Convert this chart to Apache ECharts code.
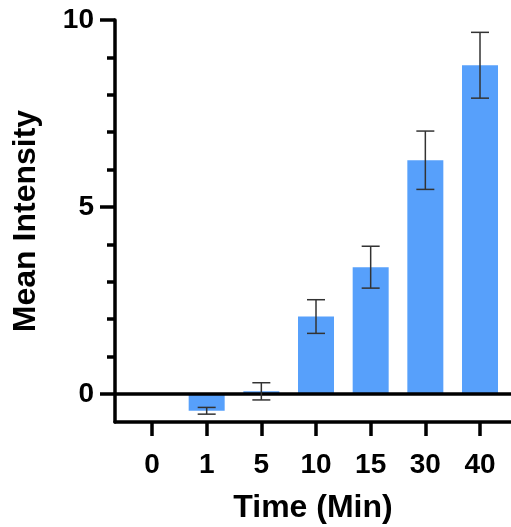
<!DOCTYPE html>
<html>
<head>
<meta charset="utf-8">
<script src="https://cdn.jsdelivr.net/npm/echarts@6/dist/echarts.min.js"></script>
<style>
  html, body { margin: 0; padding: 0; background: #fff; }
  #chart { width: 511px; height: 527px; }
</style>
</head>
<body>
<div id="chart"></div>
<script>
  // Mittelwerte und Fehler pro Zeitpunkt
  var categories = ['0', '1', '5', '10', '15', '30', '40'];
  var means = [0, -0.45, 0.07, 2.07, 3.39, 6.25, 8.79];
  var errs = [0, 0.09, 0.23, 0.45, 0.56, 0.78, 0.88];
  var yMajorTicks = [0, 5, 10];
  var yMinorTicks = [0, 1, 2, 3, 4, 5, 6, 7, 8, 9, 10];

  var catIdx = categories.map(function (c, i) { return i; });
  var barData = means.map(function (v, i) { return [i, v]; });
  var errData = means.map(function (v, i) { return [i, v - errs[i], v + errs[i]]; });

  var font = '"Liberation Sans", Arial, sans-serif';
  var lw = 3.5;
  var chart = echarts.init(document.getElementById('chart'));

  chart.setOption({
    animation: false,
    grid: { left: 115, right: 0, top: 20, bottom: 105, outerBoundsMode: 'none' },
    xAxis: {
      type: 'value',
      min: -0.677,
      max: 6.567,
      name: 'Time (Min)',
      nameLocation: 'middle',
      nameGap: 70,
      nameTextStyle: { fontFamily: font, fontWeight: 'bold', fontSize: 32, color: '#000' },
      splitLine: { show: false },
      axisLine: { onZero: false, lineStyle: { color: '#000', width: lw } },
      axisTick: { customValues: catIdx, length: 14, lineStyle: { color: '#000', width: lw } },
      axisLabel: {
        customValues: catIdx,
        margin: 29,
        fontFamily: font, fontWeight: 'bold', fontSize: 28, color: '#000',
        formatter: function (v) { return categories[Math.round(v)]; }
      }
    },
    yAxis: [{
      type: 'value',
      min: -0.75,
      max: 10,
      name: 'Mean Intensity',
      nameLocation: 'middle',
      nameGap: 73,
      nameTextStyle: { fontFamily: font, fontWeight: 'bold', fontSize: 32, color: '#000' },
      splitLine: { show: false },
      axisLine: { show: true, onZero: false, lineStyle: { color: '#000', width: lw } },
      axisTick: { show: true, customValues: yMajorTicks, length: 15, lineStyle: { color: '#000', width: lw } },
      axisLabel: {
        customValues: yMajorTicks,
        margin: 21,
        fontFamily: font, fontWeight: 'bold', fontSize: 28, color: '#000'
      }
    }, {
      type: 'value',
      position: 'left',
      min: -0.75,
      max: 10,
      splitLine: { show: false },
      axisLine: { show: false, onZero: false },
      axisTick: { show: true, customValues: yMinorTicks, length: 8, lineStyle: { color: '#000', width: lw } },
      axisLabel: { show: false }
    }],
    series: [{
      type: 'bar',
      data: barData,
      barWidth: 36,
      itemStyle: { color: '#57A0FB' },
      markLine: {
        silent: true,
        symbol: 'none',
        label: { show: false },
        lineStyle: { color: '#000', width: lw, type: 'solid' },
        data: [{ yAxis: 0 }]
      }
    }, {
      type: 'custom',
      data: errData,
      z: 5,
      renderItem: function (params, api) {
        if (api.value(1) === api.value(2)) {
          return null;
        }
        var x = api.value(0);
        var lo = api.coord([x, api.value(1)]);
        var hi = api.coord([x, api.value(2)]);
        var half = 9;
        var style = { stroke: '#333', lineWidth: 1.5 };
        return {
          type: 'group',
          children: [
            { type: 'line', shape: { x1: lo[0], y1: lo[1], x2: hi[0], y2: hi[1] }, style: style },
            { type: 'line', shape: { x1: lo[0] - half, y1: lo[1], x2: lo[0] + half, y2: lo[1] }, style: style },
            { type: 'line', shape: { x1: hi[0] - half, y1: hi[1], x2: hi[0] + half, y2: hi[1] }, style: style }
          ]
        };
      }
    }]
  });
</script>
</body>
</html>
